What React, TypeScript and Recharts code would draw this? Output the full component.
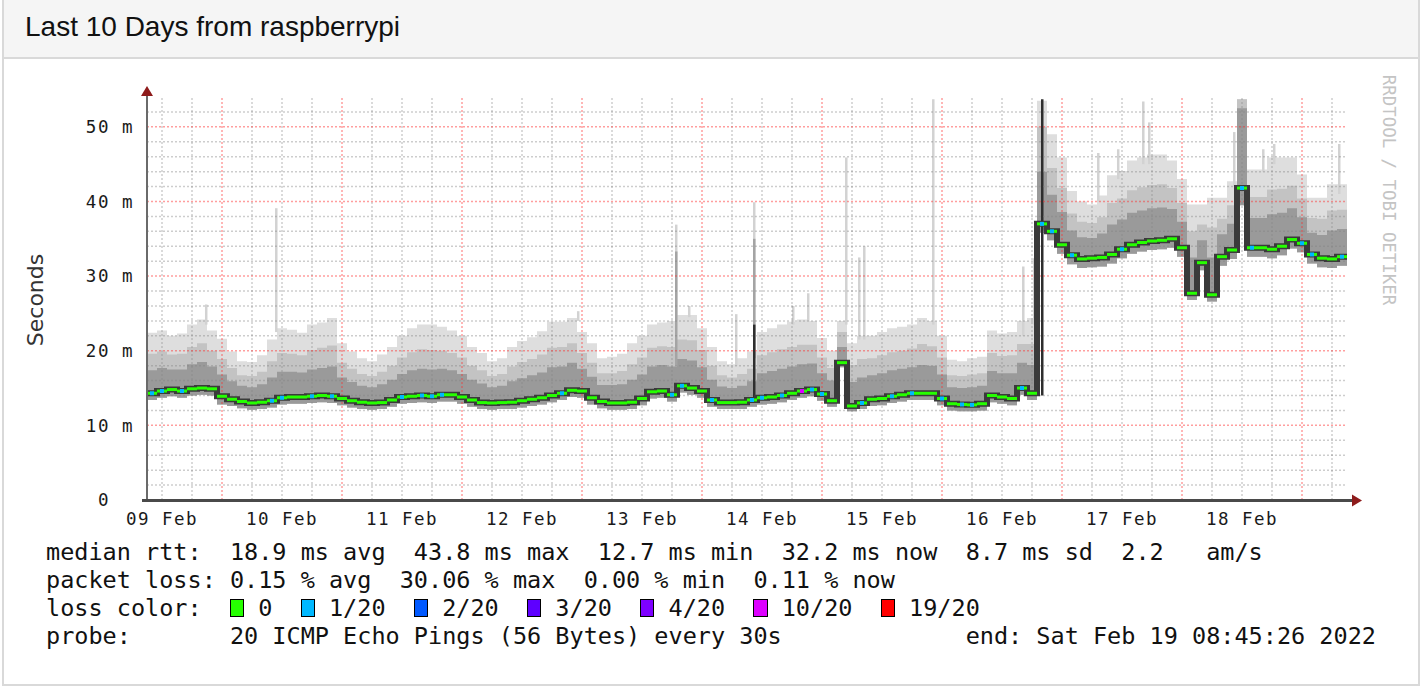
import React from "react";
import {
  Area,
  ComposedChart,
  Line,
  ReferenceArea,
  ReferenceLine,
  Scatter,
  XAxis,
  YAxis,
} from "recharts";

// x unit = days since 09 Feb 00:00, one row every two hours from 09 Feb 09:00
const FIRST_ROW_DAY = 0.375;
const ROW_DAYS = 1 / 12;

// values in ms
const medianMs = [
  14.3, 14.6, 14.8, 14.6, 14.9, 15.0, 14.9, 13.9, 13.5, 13.2,
  13.0, 13.1, 13.3, 13.7, 13.8, 13.8, 13.9, 14.0, 13.9, 13.6,
  13.3, 13.1, 13.0, 13.05, 13.4, 13.8, 13.9, 14.0, 13.9, 14.1,
  14.1, 13.8, 13.4, 13.05, 13.0, 13.05, 13.1, 13.3, 13.5, 13.7,
  14.0, 14.3, 14.7, 14.6, 13.7, 13.2, 13.0, 13.0, 13.1, 13.6,
  14.5, 14.6, 14.1, 15.3, 15.0, 14.6, 13.4, 13.05, 13.05, 13.1,
  13.4, 13.7, 13.8, 14.0, 14.3, 14.6, 14.8, 14.2, 13.3, 18.4,
  12.6, 13.0, 13.5, 13.6, 13.9, 14.1, 14.3, 14.3, 14.3, 13.6,
  12.9, 12.8, 12.75, 12.9, 14.0, 13.8, 13.6, 15.0, 14.3, 37.0,
  36.0, 34.2, 32.8, 32.3, 32.4, 32.5, 32.9, 33.6, 34.2, 34.5,
  34.7, 34.8, 35.0, 33.8, 27.7, 31.8, 27.5, 32.6, 33.5, 41.8,
  33.8, 33.8, 33.6, 34.0, 34.9, 34.4, 32.9, 32.4, 32.3, 32.6,
  32.2,
];
const lowMs = [
  13.4, 13.7, 13.9, 13.7, 14.0, 14.1, 14.0, 12.8, 12.6, 12.3,
  12.1, 12.2, 12.4, 12.8, 12.9, 12.9, 13.0, 13.1, 13.0, 12.7,
  12.4, 12.2, 12.1, 12.2, 12.5, 12.9, 13.0, 13.1, 13.0, 13.2,
  13.2, 12.9, 12.5, 12.2, 12.1, 12.2, 12.2, 12.4, 12.6, 12.8,
  13.1, 13.4, 13.8, 13.7, 12.8, 12.3, 12.1, 12.1, 12.2, 12.7,
  13.6, 13.7, 13.2, 14.4, 14.1, 13.7, 12.5, 12.2, 12.2, 12.2,
  12.5, 12.8, 12.9, 13.1, 13.4, 13.7, 13.9, 13.3, 12.5, 17.8,
  11.9, 12.2, 12.6, 12.7, 13.0, 13.2, 13.4, 13.4, 13.4, 12.7,
  12.0, 11.9, 11.9, 12.0, 13.1, 12.9, 12.7, 14.1, 13.4, 35.8,
  34.8, 33.0, 31.6, 31.1, 31.2, 31.3, 31.7, 32.4, 33.0, 33.3,
  33.5, 33.6, 33.8, 32.6, 26.8, 30.8, 26.6, 31.4, 32.3, 39.5,
  32.6, 32.6, 32.4, 32.8, 33.7, 33.2, 31.7, 31.2, 31.1, 31.4,
  31.0,
];
const q65Ms = [
  17.4, 17.7, 17.5, 17.5, 18.2, 18.5, 17.9, 16.8, 15.9, 15.3,
  15.1, 15.5, 16.4, 17.2, 17.2, 17.1, 17.5, 17.7, 17.9, 16.4,
  15.8, 15.3, 15.1, 15.5, 16.1, 16.9, 17.4, 17.6, 17.5, 17.6,
  17.4, 16.9, 16.1, 15.6, 15.1, 15.3, 15.9, 16.3, 16.7, 17.1,
  17.8, 17.9, 18.4, 17.6, 16.5, 15.4, 15.4, 15.5, 16.1, 16.8,
  17.9, 18.1, 17.9, 18.9, 18.7, 17.8, 16.1, 15.2, 15.0, 15.3,
  15.9, 17.0, 17.3, 17.6, 17.9, 18.2, 18.3, 17.0, 16.0, 20.5,
  15.8, 16.4, 16.7, 17.0, 17.4, 17.6, 17.8, 18.1, 18.0, 16.8,
  15.1, 15.0, 15.1, 15.3, 17.3, 17.0, 17.0, 18.4, 18.1, 44.0,
  40.9, 38.6, 36.1, 35.2, 35.1, 35.7, 36.9, 37.6, 38.5, 38.8,
  39.1, 39.2, 39.0, 37.3, 32.5, 34.8, 32.5, 35.6, 37.0, 52.5,
  37.8, 37.8, 38.3, 38.5, 39.1, 37.9, 35.8, 35.5, 36.1, 36.3,
  36.0,
];
const q85Ms = [
  19.6, 19.9, 19.5, 19.6, 20.5, 21.0, 20.0, 18.9, 17.7, 16.7,
  16.6, 17.2, 18.6, 19.7, 19.6, 19.4, 20.1, 20.4, 20.7, 18.4,
  17.6, 16.9, 16.6, 17.2, 18.0, 19.1, 19.8, 20.2, 20.1, 20.0,
  19.7, 19.1, 18.0, 17.4, 16.6, 16.9, 17.9, 18.5, 18.9, 19.5,
  20.4, 20.5, 21.0, 19.7, 18.4, 17.0, 17.0, 17.3, 18.2, 19.1,
  20.4, 20.6, 20.5, 21.5, 21.4, 20.1, 18.0, 16.7, 16.4, 16.9,
  17.6, 19.4, 19.8, 20.2, 20.5, 20.8, 20.8, 19.1, 17.7, 22.5,
  18.1, 18.9, 19.0, 19.4, 19.8, 20.0, 20.3, 20.9, 20.6, 19.1,
  16.7, 16.6, 16.8, 17.0, 19.7, 19.3, 19.4, 20.9, 20.9, 50.0,
  44.5, 41.8, 38.4, 37.3, 37.1, 37.9, 39.8, 40.4, 41.5, 41.9,
  42.2, 42.3, 41.8, 39.8, 36.0, 36.9, 36.5, 37.7, 39.5, 53.7,
  40.6, 40.6, 41.6, 41.7, 42.1, 40.4, 37.8, 37.7, 38.8, 38.9,
  38.7,
];
const highMs = [
  22.4, 22.7, 22.0, 22.3, 23.5, 24.2, 22.7, 21.6, 19.9, 18.6,
  18.5, 19.4, 21.5, 23.0, 22.8, 22.4, 23.5, 23.8, 24.4, 21.0,
  19.9, 19.0, 18.6, 19.5, 20.5, 22.0, 23.0, 23.5, 23.5, 23.2,
  22.7, 22.0, 20.5, 19.7, 18.6, 19.0, 20.5, 21.3, 21.8, 22.6,
  23.9, 23.9, 24.4, 22.5, 21.0, 19.0, 19.2, 19.6, 21.0, 22.0,
  23.5, 23.8, 24.0, 24.8, 24.8, 23.0, 20.5, 18.6, 18.2, 19.0,
  19.9, 22.5, 23.0, 23.5, 23.9, 24.2, 24.0, 21.7, 20.0, 24.0,
  21.0, 22.0, 22.0, 22.5, 23.0, 23.2, 23.5, 24.4, 24.0, 22.0,
  18.8, 18.6, 19.0, 19.2, 22.7, 22.3, 22.5, 24.0, 24.4, 53.5,
  49.0, 45.9, 41.4, 40.0, 39.6, 40.8, 43.5, 44.1, 45.5, 45.9,
  46.3, 46.3, 45.5, 43.0, 39.6, 39.6, 40.5, 40.5, 42.7, 53.7,
  44.3, 44.3, 45.9, 45.9, 45.9, 43.6, 40.5, 40.5, 42.3, 42.3,
  42.3,
];

// rows where the median carries 1/20 and 10/20 loss
const blueRows = [0, 1, 3, 12, 13, 16, 18, 25, 27, 28, 29, 41, 52, 53, 56, 60, 61, 63, 66, 67, 71, 74, 76, 79, 81, 82, 87, 89, 90, 92, 97, 109, 110, 115, 116, 119];
const magentaRows = [65];

// single-sample spikes: day, low, high, shade (0 light, 1 mid, 2 dark)
const spikeDay = [0.858, 1.442, 3.958, 4.775, 4.775, 4.883, 5.275, 5.425, 5.425, 5.425, 5.75, 5.875, 6.192, 6.3, 6.342, 6.917, 7.667, 7.758, 7.825, 8.292, 8.458, 8.667, 8.717, 9.425, 9.667, 9.758, 10.3];
const spikeLow = [23.5, 22.5, 24, 24, 18, 24.5, 18, 19, 19, 13.7, 23.5, 24, 23.5, 21.5, 21.5, 23.5, 22, 23.5, 14, 40, 43, 45, 45, 42, 44, 45, 41];
const spikeHigh = [26.2, 39.1, 25.3, 36.9, 33.3, 26.0, 24.9, 39.9, 35.0, 23.5, 26.0, 27.7, 45.9, 32.5, 34.0, 53.7, 31.3, 32.4, 53.7, 46.5, 47.0, 53.4, 50.6, 49.3, 47.0, 47.7, 47.7];
const spikeShade = [0, 0, 0, 0, 1, 0, 0, 0, 1, 2, 0, 0, 0, 0, 0, 0, 0, 0, 2, 0, 0, 0, 0, 0, 0, 0, 0];

const dayTicks = [0.5, 1.5, 2.5, 3.5, 4.5, 5.5, 6.5, 7.5, 8.5, 9.5];
const dayLabels = ["09 Feb", "10 Feb", "11 Feb", "12 Feb", "13 Feb", "14 Feb", "15 Feb", "16 Feb", "17 Feb", "18 Feb"];
const valueTicks = [0, 10, 20, 30, 40, 50];

const majorDays = [1, 2, 3, 4, 5, 6, 7, 8, 9, 10];
const minorDays = Array.from({ length: 40 }, (_, i) => 0.5 + i * 0.25).filter((d) => d % 1 !== 0);
const majorMs = [10, 20, 30, 40, 50];
const minorMs = Array.from({ length: 27 }, (_, i) => i * 2).filter((v) => v % 10 !== 0);

const lossLabels = ["0", "1/20", "2/20", "3/20", "4/20", "10/20", "19/20"];
const lossColors = ["#26ff00", "#00b8ff", "#0059ff", "#5e00ff", "#7e00ff", "#dd00ff", "#ff0000"];

const rows = medianMs.map((m, i) => ({
  t: FIRST_ROW_DAY + i * ROW_DAYS,
  med: m,
  outer: [lowMs[i], highMs[i]],
  middle: [lowMs[i], q85Ms[i]],
  inner: [lowMs[i], q65Ms[i]],
  loss: magentaRows.includes(i) ? 5 : blueRows.includes(i) ? 1 : 0,
}));

const shadeFill = ["#d2d2d2", "#a4a4a4", "#2e2e2e"];
const SPIKE_DAYS = 2.5 / 120;
const STEP_PX = 10;
const MONO = '"DejaVu Sans Mono", monospace';

function MedianMark(props: any) {
  const { cx, cy, payload } = props;
  if (typeof cx !== "number" || typeof cy !== "number") return null;
  return (
    <g>
      <rect x={cx} y={cy - 1.5} width={STEP_PX} height={3} fill={lossColors[0]} />
      {payload.loss > 0 ? (
        <rect x={cx + 3} y={cy - 2} width={4} height={4} fill={lossColors[payload.loss]} />
      ) : null}
    </g>
  );
}

function YTick(props: any) {
  const { x, y, payload } = props;
  const v = payload.value;
  return (
    <text x={x} y={y} dy="0.36em" textAnchor="end" fontFamily={MONO} fontSize={17.5} letterSpacing={1.5} fill="#1a1a1a" xmlSpace="preserve">
      {v === 0 ? "0\u00a0\u00a0" : `${v} m`}
    </text>
  );
}

function XTick(props: any) {
  const { x, y, payload } = props;
  const label = dayLabels[dayTicks.indexOf(payload.value)] ?? "";
  return (
    <text x={x} y={y} dy="0.74em" textAnchor="middle" fontFamily={MONO} fontSize={17.5} letterSpacing={1.5} fill="#1a1a1a">
      {label}
    </text>
  );
}

export default function App() {
  return (
    <div style={{ position: "absolute", left: 0, top: 0, width: 1426, height: 688, background: "#fff", overflow: "hidden" }}>
      <div
        style={{
          position: "absolute",
          left: 2,
          top: -2,
          width: 1418,
          height: 688,
          border: "2px solid #d9d9d9",
          boxSizing: "border-box",
        }}
      >
        <div style={{ height: 57, background: "#f5f5f5", borderBottom: "2px solid #d9d9d9" }} />
      </div>
      <div
        style={{
          position: "absolute",
          left: 25,
          top: 13,
          fontFamily: '"Liberation Sans", Arial, sans-serif',
          fontSize: 28,
          lineHeight: "28px",
          color: "#111",
          whiteSpace: "pre",
        }}
      >
        Last 10 Days from raspberrypi
      </div>

      <div style={{ position: "absolute", left: 0, top: 0 }}>
        <ComposedChart width={1426} height={540} data={rows} margin={{ top: 97, right: 79, bottom: 10, left: 87 }}>
          <XAxis
            dataKey="t"
            type="number"
            scale="linear"
            domain={[0.375, 10.375]}
            allowDataOverflow
            ticks={dayTicks}
            interval={0}
            axisLine={false}
            tickLine={false}
            tickSize={0}
            tickMargin={12}
            height={30}
            tick={<XTick />}
          />
          <YAxis
            type="number"
            domain={[0, 54]}
            allowDataOverflow
            ticks={valueTicks}
            interval={0}
            axisLine={false}
            tickLine={false}
            tickSize={0}
            tickMargin={13}
            width={60}
            tick={<YTick />}
          />
          <Area dataKey="outer" type="stepAfter" stroke="none" fill="#dedede" fillOpacity={1} dot={false} activeDot={false} isAnimationActive={false} />
          <Area dataKey="middle" type="stepAfter" stroke="none" fill="#c3c3c3" fillOpacity={1} dot={false} activeDot={false} isAnimationActive={false} />
          <Area dataKey="inner" type="stepAfter" stroke="none" fill="#9a9a9a" fillOpacity={1} dot={false} activeDot={false} isAnimationActive={false} />
          {spikeDay.map((d, i) => (
            <ReferenceArea
              key={`sp${i}`}
              x1={d}
              x2={d + SPIKE_DAYS}
              y1={spikeLow[i]}
              y2={spikeHigh[i]}
              fill={shadeFill[spikeShade[i]]}
              fillOpacity={1}
              stroke="none"
            />
          ))}
          {minorDays.map((d) => (
            <ReferenceLine key={`mx${d}`} x={d} stroke="rgba(130,130,130,0.4)" strokeWidth={1.5} strokeDasharray="2 2" />
          ))}
          {minorMs.map((v) => (
            <ReferenceLine key={`my${v}`} y={v} stroke="rgba(130,130,130,0.4)" strokeWidth={1.5} strokeDasharray="2 2" />
          ))}
          {majorDays.map((d) => (
            <ReferenceLine key={`Mx${d}`} x={d} stroke="rgba(255,40,40,0.45)" strokeWidth={1.5} strokeDasharray="2 2" />
          ))}
          {majorMs.map((v) => (
            <ReferenceLine key={`My${v}`} y={v} stroke="rgba(255,40,40,0.45)" strokeWidth={1.5} strokeDasharray="2 2" />
          ))}
          <Line dataKey="med" type="stepAfter" stroke="#3a3a3a" strokeWidth={6} dot={false} activeDot={false} isAnimationActive={false} />
          <Scatter data={rows.slice(0, -1)} dataKey="med" shape={<MedianMark />} isAnimationActive={false} />
        </ComposedChart>
      </div>

      <svg width={1426} height={688} style={{ position: "absolute", left: 0, top: 0, pointerEvents: "none" }}>
        <line x1={147} y1={501} x2={147} y2={93} stroke="#6a6a6a" strokeWidth={2} />
        <line x1={142} y1={500.5} x2={1354} y2={500.5} stroke="#4a4a4a" strokeWidth={3} />
        <polygon points="147,86 141,96 153,96" fill="#8e1b1b" />
        <polygon points="1362,500.5 1352,494.5 1352,506.5" fill="#8e1b1b" />
        <text x={43} y={300} transform="rotate(-90 43 300)" textAnchor="middle" fontFamily='"DejaVu Sans", sans-serif' fontSize={22} fill="#333">
          Seconds
        </text>
        <text x={1383} y={190} transform="rotate(90 1383 190)" textAnchor="middle" fontFamily={MONO} fontSize={17.4} fill="#c4c4c4">
          RRDTOOL / TOBI OETIKER
        </text>
      </svg>

      <div
        style={{
          position: "absolute",
          left: 46,
          top: 538,
          fontFamily: MONO,
          fontSize: 23.5,
          lineHeight: "28px",
          whiteSpace: "pre",
          color: "#111",
        }}
      >
        <div>median rtt:  18.9 ms avg  43.8 ms max  12.7 ms min  32.2 ms now  8.7 ms sd  2.2   am/s</div>
        <div>packet loss: 0.15 % avg  30.06 % max  0.00 % min  0.11 % now</div>
        <div>
          {"loss color:  "}
          {lossLabels.map((l, i) => (
            <React.Fragment key={l}>
              <span
                style={{
                  display: "inline-block",
                  width: "1ch",
                  height: 18,
                  background: lossColors[i],
                  border: "1.5px solid #000",
                  boxSizing: "border-box",
                  verticalAlign: "-1px",
                }}
              />
              {i < lossLabels.length - 1 ? ` ${l}  ` : ` ${l}`}
            </React.Fragment>
          ))}
        </div>
        <div>{"probe:       20 ICMP Echo Pings (56 Bytes) every 30s             end: Sat Feb 19 08:45:26 2022"}</div>
      </div>
    </div>
  );
}
